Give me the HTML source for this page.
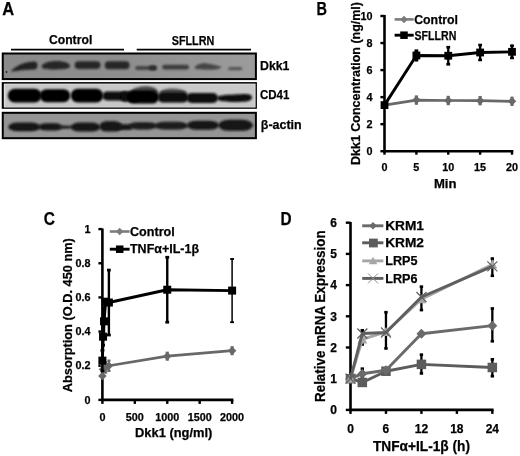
<!DOCTYPE html><html><head><meta charset="utf-8"><style>html,body{margin:0;padding:0;background:#fff;overflow:hidden}svg{display:block}text{font-family:"Liberation Sans",sans-serif;stroke:currentColor;stroke-width:0.25px;paint-order:stroke}</style></head><body>
<svg width="520" height="456" viewBox="0 0 520 456">
<defs><filter id="b1" x="-20%" y="-50%" width="140%" height="200%"><feGaussianBlur stdDeviation="1.2"/></filter><filter id="b2" x="-20%" y="-50%" width="140%" height="200%"><feGaussianBlur stdDeviation="0.8"/></filter><linearGradient id="g1" x1="0" x2="1" y1="0" y2="0"><stop offset="0" stop-color="#8a8a8a"/><stop offset="0.5" stop-color="#8e8e8e"/><stop offset="1" stop-color="#9c9c9c"/></linearGradient><filter id="soft" x="0" y="0" width="520" height="456" filterUnits="userSpaceOnUse"><feGaussianBlur stdDeviation="0.33"/></filter></defs>
<rect width="520" height="456" fill="#fff"/><g filter="url(#soft)">
<text x="2.20" y="14.60" font-size="18.5" text-anchor="start" fill="#000" color="#000" font-weight="bold" textLength="11.90" lengthAdjust="spacingAndGlyphs">A</text>
<text x="48.90" y="44.20" font-size="13.5" text-anchor="start" fill="#000" color="#000" font-weight="bold" textLength="43.40" lengthAdjust="spacingAndGlyphs">Control</text>
<text x="171.70" y="44.70" font-size="13.5" text-anchor="start" fill="#000" color="#000" font-weight="bold" textLength="42.60" lengthAdjust="spacingAndGlyphs">SFLLRN</text>
<line x1="11.00" y1="49.60" x2="124.00" y2="49.60" stroke="#000" stroke-width="1.6" stroke-linecap="butt"/>
<line x1="136.70" y1="49.60" x2="251.00" y2="49.60" stroke="#000" stroke-width="1.6" stroke-linecap="butt"/>
<rect x="2.75" y="53.50" width="253.15" height="25.60" fill="url(#g1)" stroke="#000" stroke-width="2"/>
<rect x="2.75" y="83.10" width="253.15" height="24.70" fill="#c8c8c8" stroke="#000" stroke-width="2"/>
<rect x="4.6" y="84.2" width="250.4" height="22.7" fill="none" stroke="#dedede" stroke-width="1.2"/>
<rect x="2.75" y="112.80" width="253.15" height="25.40" fill="#959595" stroke="#000" stroke-width="2"/>
<path d="M10.8,71.3 C15,67 22,62.2 33,61.6 C37.5,61.4 37.8,64 37.4,66 C37.2,68.5 36,69.6 33,69.6 C25,70 17,70.8 10.8,71.6Z" fill="#222" filter="url(#b2)"/>
<circle cx="6.5" cy="72" r="0.9" fill="#222"/>
<path d="M41.7,66.5 C42,63 48,61.3 56,60.9 C63,61 69.5,62.5 70,65.5 C70.2,68.5 66,69.4 56,69.4 C47,69.5 41.5,69 41.7,66.5Z" fill="#262626" filter="url(#b2)"/>
<rect x="74.60" y="61.20" width="25.90" height="7.70" rx="3.85" ry="3.85" fill="#262626" filter="url(#b2)" opacity="1"/>
<rect x="104.70" y="61.20" width="24.90" height="8.00" rx="4.00" ry="4.00" fill="#282828" filter="url(#b2)" opacity="1"/>
<rect x="135.20" y="66.00" width="21.40" height="4.00" rx="2.00" ry="2.00" fill="#444" filter="url(#b2)" opacity="1"/>
<rect x="149.00" y="65.60" width="7.60" height="4.60" rx="2.30" ry="2.30" fill="#2a2a2a" filter="url(#b2)" opacity="1"/>
<rect x="162.20" y="64.80" width="26.80" height="4.80" rx="2.40" ry="2.40" fill="#3c3c3c" filter="url(#b2)" opacity="1"/>
<path d="M194.5,67.5 C196,65 200,63.2 205,63.2 C210,63.5 215,65 221,66.5 C221.5,68.5 218,69.7 208,69.7 C200,69.7 194.5,69.4 194.5,67.5Z" fill="#444" filter="url(#b2)"/>
<rect x="228.20" y="67.00" width="14.00" height="3.20" rx="1.60" ry="1.60" fill="#555" filter="url(#b2)" opacity="1"/>
<rect x="7.80" y="88.80" width="33.80" height="13.80" rx="6.90" ry="6.90" fill="#060606" filter="url(#b1)" opacity="1"/>
<rect x="39.80" y="89.20" width="30.40" height="13.00" rx="6.50" ry="6.50" fill="#060606" filter="url(#b1)" opacity="1"/>
<rect x="70.80" y="88.80" width="32.40" height="13.80" rx="6.90" ry="6.90" fill="#060606" filter="url(#b1)" opacity="1"/>
<rect x="102.40" y="91.60" width="26.10" height="8.80" rx="4.40" ry="4.40" fill="#0a0a0a" filter="url(#b1)" opacity="1"/>
<rect x="120.00" y="91.20" width="20.00" height="10.60" rx="5.30" ry="5.30" fill="#080808" filter="url(#b1)" opacity="1"/>
<path d="M130,93 C131,88.5 138,86.2 146,86.2 C153,86.2 158,88.5 158.5,93 Z" fill="#4a4a4a" filter="url(#b1)"/>
<rect x="127.00" y="90.60" width="32.00" height="13.00" rx="6.50" ry="6.50" fill="#060606" filter="url(#b1)" opacity="1"/>
<path d="M159,93 C160,90 166,88.5 172,88.5 C179,88.5 186,90 187,93 Z" fill="#555" filter="url(#b1)"/>
<rect x="157.50" y="91.80" width="31.00" height="10.80" rx="5.40" ry="5.40" fill="#080808" filter="url(#b1)" opacity="1"/>
<rect x="186.50" y="93.00" width="31.50" height="10.00" rx="5.00" ry="5.00" fill="#0a0a0a" filter="url(#b1)" opacity="1"/>
<path d="M217,98 C217,95.5 225,95 235,94.6 C244,94.0 252,93 252,97.5 C252,101.5 245,102 235,102 C225,102 217,101.5 217,98Z" fill="#0a0a0a" filter="url(#b1)"/>
<rect x="8.30" y="122.60" width="32.20" height="8.60" rx="9.66" ry="4.30" fill="#161616" filter="url(#b2)" opacity="1"/>
<rect x="38.60" y="123.30" width="23.40" height="7.20" rx="7.02" ry="3.60" fill="#141414" filter="url(#b2)" opacity="1"/>
<rect x="57.00" y="125.40" width="15.50" height="3.40" rx="4.65" ry="1.70" fill="#222" filter="url(#b2)" opacity="1"/>
<rect x="70.60" y="122.60" width="29.90" height="9.00" rx="8.97" ry="4.50" fill="#161616" filter="url(#b2)" opacity="1"/>
<rect x="99.40" y="121.30" width="22.60" height="10.30" rx="6.78" ry="5.15" fill="#161616" filter="url(#b2)" opacity="1"/>
<rect x="116.00" y="124.30" width="16.50" height="5.70" rx="4.95" ry="2.85" fill="#161616" filter="url(#b2)" opacity="1"/>
<rect x="128.80" y="122.20" width="28.20" height="7.20" rx="8.46" ry="3.60" fill="#1c1c1c" filter="url(#b2)" opacity="1"/>
<rect x="154.50" y="121.80" width="33.50" height="7.80" rx="10.05" ry="3.90" fill="#1a1a1a" filter="url(#b2)" opacity="1"/>
<rect x="186.80" y="120.80" width="32.20" height="9.00" rx="9.66" ry="4.50" fill="#161616" filter="url(#b2)" opacity="1"/>
<rect x="218.20" y="119.80" width="34.80" height="11.00" rx="10.44" ry="5.50" fill="#161616" filter="url(#b2)" opacity="1"/>
<text x="260.00" y="69.70" font-size="13.5" text-anchor="start" fill="#000" color="#000" font-weight="bold" textLength="29.40" lengthAdjust="spacingAndGlyphs">Dkk1</text>
<text x="260.00" y="99.30" font-size="13.5" text-anchor="start" fill="#000" color="#000" font-weight="bold" textLength="29.40" lengthAdjust="spacingAndGlyphs">CD41</text>
<text x="260.80" y="128.90" font-size="13.5" text-anchor="start" fill="#000" color="#000" font-weight="bold" textLength="40.90" lengthAdjust="spacingAndGlyphs">β-actin</text>
<text x="316.50" y="14.50" font-size="18.5" text-anchor="start" fill="#000" color="#000" font-weight="bold" textLength="10.50" lengthAdjust="spacingAndGlyphs">B</text>
<line x1="384.50" y1="15.00" x2="384.50" y2="152.50" stroke="#000" stroke-width="2.6" stroke-linecap="butt"/>
<line x1="383.20" y1="151.20" x2="513.30" y2="151.20" stroke="#000" stroke-width="2.6" stroke-linecap="butt"/>
<line x1="380.40" y1="151.20" x2="384.50" y2="151.20" stroke="#000" stroke-width="2.4" stroke-linecap="butt"/>
<text x="372.50" y="154.90" font-size="10.8" text-anchor="end" fill="#000" color="#000" font-weight="bold">0</text>
<line x1="380.40" y1="124.16" x2="384.50" y2="124.16" stroke="#000" stroke-width="2.4" stroke-linecap="butt"/>
<text x="372.50" y="127.86" font-size="10.8" text-anchor="end" fill="#000" color="#000" font-weight="bold">2</text>
<line x1="380.40" y1="97.12" x2="384.50" y2="97.12" stroke="#000" stroke-width="2.4" stroke-linecap="butt"/>
<text x="372.50" y="100.82" font-size="10.8" text-anchor="end" fill="#000" color="#000" font-weight="bold">4</text>
<line x1="380.40" y1="70.08" x2="384.50" y2="70.08" stroke="#000" stroke-width="2.4" stroke-linecap="butt"/>
<text x="372.50" y="73.78" font-size="10.8" text-anchor="end" fill="#000" color="#000" font-weight="bold">6</text>
<line x1="380.40" y1="43.04" x2="384.50" y2="43.04" stroke="#000" stroke-width="2.4" stroke-linecap="butt"/>
<text x="372.50" y="46.74" font-size="10.8" text-anchor="end" fill="#000" color="#000" font-weight="bold">8</text>
<line x1="380.40" y1="16.00" x2="384.50" y2="16.00" stroke="#000" stroke-width="2.4" stroke-linecap="butt"/>
<text x="372.50" y="19.70" font-size="10.8" text-anchor="end" fill="#000" color="#000" font-weight="bold">10</text>
<line x1="384.50" y1="151.20" x2="384.50" y2="154.70" stroke="#000" stroke-width="2.4" stroke-linecap="butt"/>
<text x="384.50" y="170.80" font-size="10.8" text-anchor="middle" fill="#000" color="#000" font-weight="bold">0</text>
<line x1="416.38" y1="151.20" x2="416.38" y2="154.70" stroke="#000" stroke-width="2.4" stroke-linecap="butt"/>
<text x="416.38" y="170.80" font-size="10.8" text-anchor="middle" fill="#000" color="#000" font-weight="bold">5</text>
<line x1="448.25" y1="151.20" x2="448.25" y2="154.70" stroke="#000" stroke-width="2.4" stroke-linecap="butt"/>
<text x="448.25" y="170.80" font-size="10.8" text-anchor="middle" fill="#000" color="#000" font-weight="bold">10</text>
<line x1="480.12" y1="151.20" x2="480.12" y2="154.70" stroke="#000" stroke-width="2.4" stroke-linecap="butt"/>
<text x="480.12" y="170.80" font-size="10.8" text-anchor="middle" fill="#000" color="#000" font-weight="bold">15</text>
<line x1="512.00" y1="151.20" x2="512.00" y2="154.70" stroke="#000" stroke-width="2.4" stroke-linecap="butt"/>
<text x="512.00" y="170.80" font-size="10.8" text-anchor="middle" fill="#000" color="#000" font-weight="bold">20</text>
<text x="433.90" y="188.20" font-size="12.8" text-anchor="start" fill="#000" color="#000" font-weight="bold" textLength="22.60" lengthAdjust="spacingAndGlyphs">Min</text>
<text transform="translate(359.80,165.00) rotate(-90)" font-size="12.8" text-anchor="start" fill="#000" color="#000" font-weight="bold" textLength="163.00" lengthAdjust="spacingAndGlyphs">Dkk1 Concentration (ng/ml)</text>
<polyline points="384.50,105.10 416.38,100.09 448.25,100.50 480.12,100.64 512.00,101.31" fill="none" stroke="#686868" stroke-width="2.7" stroke-linejoin="round"/>
<line x1="416.38" y1="96.49" x2="416.38" y2="103.69" stroke="#686868" stroke-width="1.8" stroke-linecap="butt"/>
<line x1="414.77" y1="96.49" x2="417.98" y2="96.49" stroke="#686868" stroke-width="2.2" stroke-linecap="butt"/>
<line x1="414.77" y1="103.69" x2="417.98" y2="103.69" stroke="#686868" stroke-width="2.2" stroke-linecap="butt"/>
<polygon points="416.38,95.84 420.62,100.09 416.38,104.34 412.12,100.09" fill="#686868"/>
<line x1="448.25" y1="96.90" x2="448.25" y2="104.10" stroke="#686868" stroke-width="1.8" stroke-linecap="butt"/>
<line x1="446.65" y1="96.90" x2="449.85" y2="96.90" stroke="#686868" stroke-width="2.2" stroke-linecap="butt"/>
<line x1="446.65" y1="104.10" x2="449.85" y2="104.10" stroke="#686868" stroke-width="2.2" stroke-linecap="butt"/>
<polygon points="448.25,96.25 452.50,100.50 448.25,104.75 444.00,100.50" fill="#686868"/>
<line x1="480.12" y1="97.04" x2="480.12" y2="104.24" stroke="#686868" stroke-width="1.8" stroke-linecap="butt"/>
<line x1="478.52" y1="97.04" x2="481.73" y2="97.04" stroke="#686868" stroke-width="2.2" stroke-linecap="butt"/>
<line x1="478.52" y1="104.24" x2="481.73" y2="104.24" stroke="#686868" stroke-width="2.2" stroke-linecap="butt"/>
<polygon points="480.12,96.39 484.38,100.64 480.12,104.89 475.88,100.64" fill="#686868"/>
<line x1="512.00" y1="97.71" x2="512.00" y2="104.91" stroke="#686868" stroke-width="1.8" stroke-linecap="butt"/>
<line x1="510.40" y1="97.71" x2="513.60" y2="97.71" stroke="#686868" stroke-width="2.2" stroke-linecap="butt"/>
<line x1="510.40" y1="104.91" x2="513.60" y2="104.91" stroke="#686868" stroke-width="2.2" stroke-linecap="butt"/>
<polygon points="512.00,97.06 516.25,101.31 512.00,105.56 507.75,101.31" fill="#686868"/>
<polyline points="384.50,105.10 416.38,55.48 448.25,55.75 480.12,52.50 512.00,51.83" fill="none" stroke="#000" stroke-width="2.9" stroke-linejoin="round"/>
<rect x="380.60" y="101.20" width="7.8" height="7.8" fill="#000"/>
<line x1="416.38" y1="50.75" x2="416.38" y2="60.21" stroke="#000" stroke-width="2.3" stroke-linecap="butt"/>
<line x1="414.48" y1="50.75" x2="418.27" y2="50.75" stroke="#000" stroke-width="2.6999999999999997" stroke-linecap="butt"/>
<line x1="414.48" y1="60.21" x2="418.27" y2="60.21" stroke="#000" stroke-width="2.6999999999999997" stroke-linecap="butt"/>
<rect x="412.48" y="51.58" width="7.8" height="7.8" fill="#000"/>
<line x1="448.25" y1="47.23" x2="448.25" y2="64.27" stroke="#000" stroke-width="2.3" stroke-linecap="butt"/>
<line x1="446.35" y1="47.23" x2="450.15" y2="47.23" stroke="#000" stroke-width="2.6999999999999997" stroke-linecap="butt"/>
<line x1="446.35" y1="64.27" x2="450.15" y2="64.27" stroke="#000" stroke-width="2.6999999999999997" stroke-linecap="butt"/>
<rect x="444.35" y="51.85" width="7.8" height="7.8" fill="#000"/>
<line x1="480.12" y1="45.07" x2="480.12" y2="59.94" stroke="#000" stroke-width="2.3" stroke-linecap="butt"/>
<line x1="478.23" y1="45.07" x2="482.02" y2="45.07" stroke="#000" stroke-width="2.6999999999999997" stroke-linecap="butt"/>
<line x1="478.23" y1="59.94" x2="482.02" y2="59.94" stroke="#000" stroke-width="2.6999999999999997" stroke-linecap="butt"/>
<rect x="476.23" y="48.60" width="7.8" height="7.8" fill="#000"/>
<line x1="512.00" y1="45.74" x2="512.00" y2="57.91" stroke="#000" stroke-width="2.3" stroke-linecap="butt"/>
<line x1="510.10" y1="45.74" x2="513.90" y2="45.74" stroke="#000" stroke-width="2.6999999999999997" stroke-linecap="butt"/>
<line x1="510.10" y1="57.91" x2="513.90" y2="57.91" stroke="#000" stroke-width="2.6999999999999997" stroke-linecap="butt"/>
<rect x="508.10" y="47.93" width="7.8" height="7.8" fill="#000"/>
<line x1="394.60" y1="19.40" x2="413.70" y2="19.40" stroke="#7c7c7c" stroke-width="2.6" stroke-linecap="butt"/>
<polygon points="404.00,15.65 407.75,19.40 404.00,23.15 400.25,19.40" fill="#7c7c7c"/>
<text x="414.20" y="23.70" font-size="12.5" text-anchor="start" fill="#000" color="#000" font-weight="bold" textLength="43.80" lengthAdjust="spacingAndGlyphs">Control</text>
<line x1="394.60" y1="35.20" x2="413.70" y2="35.20" stroke="#000" stroke-width="2.9" stroke-linecap="butt"/>
<rect x="400.25" y="31.45" width="7.5" height="7.5" fill="#000"/>
<text x="414.50" y="39.60" font-size="12.5" text-anchor="start" fill="#000" color="#000" font-weight="bold" textLength="41.80" lengthAdjust="spacingAndGlyphs">SFLLRN</text>
<text x="43.80" y="225.00" font-size="18.5" text-anchor="start" fill="#000" color="#000" font-weight="bold" textLength="11.20" lengthAdjust="spacingAndGlyphs">C</text>
<line x1="102.40" y1="228.50" x2="102.40" y2="401.20" stroke="#000" stroke-width="2.6" stroke-linecap="butt"/>
<line x1="101.10" y1="399.90" x2="233.40" y2="399.90" stroke="#000" stroke-width="2.6" stroke-linecap="butt"/>
<line x1="98.40" y1="399.90" x2="102.40" y2="399.90" stroke="#000" stroke-width="2.4" stroke-linecap="butt"/>
<text x="90.60" y="403.60" font-size="10.8" text-anchor="end" fill="#000" color="#000" font-weight="bold">0</text>
<line x1="98.40" y1="365.74" x2="102.40" y2="365.74" stroke="#000" stroke-width="2.4" stroke-linecap="butt"/>
<text x="90.60" y="369.44" font-size="10.8" text-anchor="end" fill="#000" color="#000" font-weight="bold">0.2</text>
<line x1="98.40" y1="331.58" x2="102.40" y2="331.58" stroke="#000" stroke-width="2.4" stroke-linecap="butt"/>
<text x="90.60" y="335.28" font-size="10.8" text-anchor="end" fill="#000" color="#000" font-weight="bold">0.4</text>
<line x1="98.40" y1="297.42" x2="102.40" y2="297.42" stroke="#000" stroke-width="2.4" stroke-linecap="butt"/>
<text x="90.60" y="301.12" font-size="10.8" text-anchor="end" fill="#000" color="#000" font-weight="bold">0.6</text>
<line x1="98.40" y1="263.26" x2="102.40" y2="263.26" stroke="#000" stroke-width="2.4" stroke-linecap="butt"/>
<text x="90.60" y="266.96" font-size="10.8" text-anchor="end" fill="#000" color="#000" font-weight="bold">0.8</text>
<line x1="98.40" y1="229.10" x2="102.40" y2="229.10" stroke="#000" stroke-width="2.4" stroke-linecap="butt"/>
<text x="90.60" y="232.80" font-size="10.8" text-anchor="end" fill="#000" color="#000" font-weight="bold">1</text>
<line x1="102.40" y1="399.90" x2="102.40" y2="403.90" stroke="#000" stroke-width="2.4" stroke-linecap="butt"/>
<text x="102.40" y="420.60" font-size="10.8" text-anchor="middle" fill="#000" color="#000" font-weight="bold">0</text>
<line x1="134.83" y1="399.90" x2="134.83" y2="403.90" stroke="#000" stroke-width="2.4" stroke-linecap="butt"/>
<text x="134.83" y="420.60" font-size="10.8" text-anchor="middle" fill="#000" color="#000" font-weight="bold">500</text>
<line x1="167.25" y1="399.90" x2="167.25" y2="403.90" stroke="#000" stroke-width="2.4" stroke-linecap="butt"/>
<text x="167.25" y="420.60" font-size="10.8" text-anchor="middle" fill="#000" color="#000" font-weight="bold">1000</text>
<line x1="199.68" y1="399.90" x2="199.68" y2="403.90" stroke="#000" stroke-width="2.4" stroke-linecap="butt"/>
<text x="199.68" y="420.60" font-size="10.8" text-anchor="middle" fill="#000" color="#000" font-weight="bold">1500</text>
<line x1="232.10" y1="399.90" x2="232.10" y2="403.90" stroke="#000" stroke-width="2.4" stroke-linecap="butt"/>
<text x="232.10" y="420.60" font-size="10.8" text-anchor="middle" fill="#000" color="#000" font-weight="bold">2000</text>
<text x="135.00" y="437.30" font-size="12.8" text-anchor="start" fill="#000" color="#000" font-weight="bold" textLength="77.40" lengthAdjust="spacingAndGlyphs">Dkk1 (ng/ml)</text>
<text transform="translate(72.00,392.20) rotate(-90)" font-size="12.8" text-anchor="start" fill="#000" color="#000" font-weight="bold" textLength="154.00" lengthAdjust="spacingAndGlyphs">Absorption (O.D. 450 nm)</text>
<polyline points="103.05,369.16 104.02,365.74 105.64,367.45 108.89,365.74 167.25,356.18 232.10,350.71" fill="none" stroke="#686868" stroke-width="2.7" stroke-linejoin="round"/>
<polygon points="102.40,371.74 106.65,375.99 102.40,380.24 98.15,375.99" fill="#686868"/>
<polygon points="103.05,364.91 107.30,369.16 103.05,373.41 98.80,369.16" fill="#686868"/>
<polygon points="104.02,361.49 108.27,365.74 104.02,369.99 99.77,365.74" fill="#686868"/>
<line x1="105.64" y1="362.32" x2="105.64" y2="372.57" stroke="#686868" stroke-width="1.8" stroke-linecap="butt"/>
<line x1="104.04" y1="362.32" x2="107.24" y2="362.32" stroke="#686868" stroke-width="2.2" stroke-linecap="butt"/>
<line x1="104.04" y1="372.57" x2="107.24" y2="372.57" stroke="#686868" stroke-width="2.2" stroke-linecap="butt"/>
<polygon points="105.64,363.20 109.89,367.45 105.64,371.70 101.39,367.45" fill="#686868"/>
<line x1="108.89" y1="360.62" x2="108.89" y2="370.86" stroke="#686868" stroke-width="1.8" stroke-linecap="butt"/>
<line x1="107.29" y1="360.62" x2="110.48" y2="360.62" stroke="#686868" stroke-width="2.2" stroke-linecap="butt"/>
<line x1="107.29" y1="370.86" x2="110.48" y2="370.86" stroke="#686868" stroke-width="2.2" stroke-linecap="butt"/>
<polygon points="108.89,361.49 113.14,365.74 108.89,369.99 104.64,365.74" fill="#686868"/>
<line x1="167.25" y1="352.76" x2="167.25" y2="359.59" stroke="#686868" stroke-width="1.8" stroke-linecap="butt"/>
<line x1="165.65" y1="352.76" x2="168.85" y2="352.76" stroke="#686868" stroke-width="2.2" stroke-linecap="butt"/>
<line x1="165.65" y1="359.59" x2="168.85" y2="359.59" stroke="#686868" stroke-width="2.2" stroke-linecap="butt"/>
<polygon points="167.25,351.93 171.50,356.18 167.25,360.43 163.00,356.18" fill="#686868"/>
<line x1="232.10" y1="347.29" x2="232.10" y2="354.13" stroke="#686868" stroke-width="1.8" stroke-linecap="butt"/>
<line x1="230.50" y1="347.29" x2="233.70" y2="347.29" stroke="#686868" stroke-width="2.2" stroke-linecap="butt"/>
<line x1="230.50" y1="354.13" x2="233.70" y2="354.13" stroke="#686868" stroke-width="2.2" stroke-linecap="butt"/>
<polygon points="232.10,346.46 236.35,350.71 232.10,354.96 227.85,350.71" fill="#686868"/>
<polyline points="102.40,360.62 103.05,336.70 104.02,321.33 105.64,301.69 108.89,302.54 167.25,289.73 232.10,290.59" fill="none" stroke="#000" stroke-width="2.9" stroke-linejoin="round"/>
<line x1="102.40" y1="350.37" x2="102.40" y2="370.86" stroke="#000" stroke-width="2.4" stroke-linecap="butt"/>
<line x1="100.50" y1="350.37" x2="104.30" y2="350.37" stroke="#000" stroke-width="2.8" stroke-linecap="butt"/>
<line x1="100.50" y1="370.86" x2="104.30" y2="370.86" stroke="#000" stroke-width="2.8" stroke-linecap="butt"/>
<rect x="98.40" y="356.62" width="8" height="8" fill="#000"/>
<line x1="103.05" y1="328.16" x2="103.05" y2="345.24" stroke="#000" stroke-width="2.4" stroke-linecap="butt"/>
<line x1="101.15" y1="328.16" x2="104.95" y2="328.16" stroke="#000" stroke-width="2.8" stroke-linecap="butt"/>
<line x1="101.15" y1="345.24" x2="104.95" y2="345.24" stroke="#000" stroke-width="2.8" stroke-linecap="butt"/>
<rect x="99.05" y="332.70" width="8" height="8" fill="#000"/>
<line x1="104.02" y1="307.67" x2="104.02" y2="335.00" stroke="#000" stroke-width="2.4" stroke-linecap="butt"/>
<line x1="102.12" y1="307.67" x2="105.92" y2="307.67" stroke="#000" stroke-width="2.8" stroke-linecap="butt"/>
<line x1="102.12" y1="335.00" x2="105.92" y2="335.00" stroke="#000" stroke-width="2.8" stroke-linecap="butt"/>
<rect x="100.02" y="317.33" width="8" height="8" fill="#000"/>
<rect x="101.64" y="297.69" width="8" height="8" fill="#000"/>
<line x1="108.89" y1="270.09" x2="108.89" y2="335.00" stroke="#000" stroke-width="2.4" stroke-linecap="butt"/>
<line x1="106.98" y1="270.09" x2="110.79" y2="270.09" stroke="#000" stroke-width="2.8" stroke-linecap="butt"/>
<line x1="106.98" y1="335.00" x2="110.79" y2="335.00" stroke="#000" stroke-width="2.8" stroke-linecap="butt"/>
<rect x="104.89" y="298.54" width="8" height="8" fill="#000"/>
<line x1="167.25" y1="257.28" x2="167.25" y2="322.19" stroke="#000" stroke-width="2.4" stroke-linecap="butt"/>
<line x1="165.35" y1="257.28" x2="169.15" y2="257.28" stroke="#000" stroke-width="2.8" stroke-linecap="butt"/>
<line x1="165.35" y1="322.19" x2="169.15" y2="322.19" stroke="#000" stroke-width="2.8" stroke-linecap="butt"/>
<rect x="163.25" y="285.73" width="8" height="8" fill="#000"/>
<line x1="232.10" y1="258.99" x2="232.10" y2="322.19" stroke="#000" stroke-width="1.5" stroke-linecap="butt"/>
<line x1="230.20" y1="258.99" x2="234.00" y2="258.99" stroke="#000" stroke-width="1.9" stroke-linecap="butt"/>
<line x1="230.20" y1="322.19" x2="234.00" y2="322.19" stroke="#000" stroke-width="1.9" stroke-linecap="butt"/>
<rect x="228.10" y="286.59" width="8" height="8" fill="#000"/>
<line x1="109.80" y1="231.50" x2="129.60" y2="231.50" stroke="#7c7c7c" stroke-width="2.6" stroke-linecap="butt"/>
<polygon points="119.70,227.75 123.45,231.50 119.70,235.25 115.95,231.50" fill="#7c7c7c"/>
<text x="130.00" y="235.80" font-size="12.5" text-anchor="start" fill="#000" color="#000" font-weight="bold" textLength="44.70" lengthAdjust="spacingAndGlyphs">Control</text>
<line x1="109.80" y1="249.20" x2="129.60" y2="249.20" stroke="#000" stroke-width="2.9" stroke-linecap="butt"/>
<rect x="115.95" y="245.45" width="7.5" height="7.5" fill="#000"/>
<text x="130.00" y="253.10" font-size="12.5" text-anchor="start" fill="#000" color="#000" font-weight="bold" textLength="69.00" lengthAdjust="spacingAndGlyphs">TNFα+IL-1β</text>
<text x="280.40" y="224.80" font-size="18.5" text-anchor="start" fill="#000" color="#000" font-weight="bold" textLength="11.10" lengthAdjust="spacingAndGlyphs">D</text>
<line x1="350.50" y1="222.00" x2="350.50" y2="411.20" stroke="#000" stroke-width="2.6" stroke-linecap="butt"/>
<line x1="349.20" y1="409.90" x2="493.60" y2="409.90" stroke="#000" stroke-width="2.6" stroke-linecap="butt"/>
<line x1="345.80" y1="409.90" x2="350.50" y2="409.90" stroke="#000" stroke-width="2.4" stroke-linecap="butt"/>
<text x="337.00" y="414.10" font-size="12" text-anchor="end" fill="#000" color="#000" font-weight="bold">0</text>
<line x1="345.80" y1="378.70" x2="350.50" y2="378.70" stroke="#000" stroke-width="2.4" stroke-linecap="butt"/>
<text x="337.00" y="382.90" font-size="12" text-anchor="end" fill="#000" color="#000" font-weight="bold">1</text>
<line x1="345.80" y1="347.50" x2="350.50" y2="347.50" stroke="#000" stroke-width="2.4" stroke-linecap="butt"/>
<text x="337.00" y="351.70" font-size="12" text-anchor="end" fill="#000" color="#000" font-weight="bold">2</text>
<line x1="345.80" y1="316.30" x2="350.50" y2="316.30" stroke="#000" stroke-width="2.4" stroke-linecap="butt"/>
<text x="337.00" y="320.50" font-size="12" text-anchor="end" fill="#000" color="#000" font-weight="bold">3</text>
<line x1="345.80" y1="285.10" x2="350.50" y2="285.10" stroke="#000" stroke-width="2.4" stroke-linecap="butt"/>
<text x="337.00" y="289.30" font-size="12" text-anchor="end" fill="#000" color="#000" font-weight="bold">4</text>
<line x1="345.80" y1="253.90" x2="350.50" y2="253.90" stroke="#000" stroke-width="2.4" stroke-linecap="butt"/>
<text x="337.00" y="258.10" font-size="12" text-anchor="end" fill="#000" color="#000" font-weight="bold">5</text>
<line x1="345.80" y1="222.70" x2="350.50" y2="222.70" stroke="#000" stroke-width="2.4" stroke-linecap="butt"/>
<text x="337.00" y="226.90" font-size="12" text-anchor="end" fill="#000" color="#000" font-weight="bold">6</text>
<line x1="350.50" y1="409.90" x2="350.50" y2="413.90" stroke="#000" stroke-width="2.4" stroke-linecap="butt"/>
<text x="350.50" y="433.10" font-size="12" text-anchor="middle" fill="#000" color="#000" font-weight="bold">0</text>
<line x1="385.96" y1="409.90" x2="385.96" y2="413.90" stroke="#000" stroke-width="2.4" stroke-linecap="butt"/>
<text x="385.96" y="433.10" font-size="12" text-anchor="middle" fill="#000" color="#000" font-weight="bold">6</text>
<line x1="421.42" y1="409.90" x2="421.42" y2="413.90" stroke="#000" stroke-width="2.4" stroke-linecap="butt"/>
<text x="421.42" y="433.10" font-size="12" text-anchor="middle" fill="#000" color="#000" font-weight="bold">12</text>
<line x1="456.88" y1="409.90" x2="456.88" y2="413.90" stroke="#000" stroke-width="2.4" stroke-linecap="butt"/>
<text x="456.88" y="433.10" font-size="12" text-anchor="middle" fill="#000" color="#000" font-weight="bold">18</text>
<line x1="492.34" y1="409.90" x2="492.34" y2="413.90" stroke="#000" stroke-width="2.4" stroke-linecap="butt"/>
<text x="492.34" y="433.10" font-size="12" text-anchor="middle" fill="#000" color="#000" font-weight="bold">24</text>
<text x="373.00" y="450.80" font-size="14" text-anchor="start" fill="#000" color="#000" font-weight="bold" textLength="97.00" lengthAdjust="spacingAndGlyphs">TNFα+IL-1β (h)</text>
<text transform="translate(325.40,402.00) rotate(-90)" font-size="14" text-anchor="start" fill="#000" color="#000" font-weight="bold" textLength="171.60" lengthAdjust="spacingAndGlyphs">Relative mRNA Expression</text>
<line x1="362.32" y1="330.34" x2="362.32" y2="344.38" stroke="#000" stroke-width="2.3" stroke-linecap="butt"/>
<line x1="360.62" y1="330.34" x2="364.02" y2="330.34" stroke="#000" stroke-width="2.6999999999999997" stroke-linecap="butt"/>
<line x1="360.62" y1="344.38" x2="364.02" y2="344.38" stroke="#000" stroke-width="2.6999999999999997" stroke-linecap="butt"/>
<line x1="385.96" y1="312.24" x2="385.96" y2="348.44" stroke="#000" stroke-width="2.3" stroke-linecap="butt"/>
<line x1="384.26" y1="312.24" x2="387.66" y2="312.24" stroke="#000" stroke-width="2.6999999999999997" stroke-linecap="butt"/>
<line x1="384.26" y1="348.44" x2="387.66" y2="348.44" stroke="#000" stroke-width="2.6999999999999997" stroke-linecap="butt"/>
<line x1="421.42" y1="286.66" x2="421.42" y2="310.06" stroke="#000" stroke-width="2.3" stroke-linecap="butt"/>
<line x1="419.72" y1="286.66" x2="423.12" y2="286.66" stroke="#000" stroke-width="2.6999999999999997" stroke-linecap="butt"/>
<line x1="419.72" y1="310.06" x2="423.12" y2="310.06" stroke="#000" stroke-width="2.6999999999999997" stroke-linecap="butt"/>
<line x1="492.34" y1="258.58" x2="492.34" y2="275.74" stroke="#000" stroke-width="2.3" stroke-linecap="butt"/>
<line x1="490.64" y1="258.58" x2="494.04" y2="258.58" stroke="#000" stroke-width="2.6999999999999997" stroke-linecap="butt"/>
<line x1="490.64" y1="275.74" x2="494.04" y2="275.74" stroke="#000" stroke-width="2.6999999999999997" stroke-linecap="butt"/>
<line x1="492.34" y1="308.50" x2="492.34" y2="341.26" stroke="#000" stroke-width="2.3" stroke-linecap="butt"/>
<line x1="490.64" y1="308.50" x2="494.04" y2="308.50" stroke="#000" stroke-width="2.6999999999999997" stroke-linecap="butt"/>
<line x1="490.64" y1="341.26" x2="494.04" y2="341.26" stroke="#000" stroke-width="2.6999999999999997" stroke-linecap="butt"/>
<line x1="421.42" y1="354.68" x2="421.42" y2="373.40" stroke="#000" stroke-width="2.3" stroke-linecap="butt"/>
<line x1="419.72" y1="354.68" x2="423.12" y2="354.68" stroke="#000" stroke-width="2.6999999999999997" stroke-linecap="butt"/>
<line x1="419.72" y1="373.40" x2="423.12" y2="373.40" stroke="#000" stroke-width="2.6999999999999997" stroke-linecap="butt"/>
<line x1="492.34" y1="359.36" x2="492.34" y2="376.20" stroke="#000" stroke-width="2.3" stroke-linecap="butt"/>
<line x1="490.64" y1="359.36" x2="494.04" y2="359.36" stroke="#000" stroke-width="2.6999999999999997" stroke-linecap="butt"/>
<line x1="490.64" y1="376.20" x2="494.04" y2="376.20" stroke="#000" stroke-width="2.6999999999999997" stroke-linecap="butt"/>
<line x1="362.32" y1="368.72" x2="362.32" y2="377.14" stroke="#000" stroke-width="2.3" stroke-linecap="butt"/>
<line x1="360.62" y1="368.72" x2="364.02" y2="368.72" stroke="#000" stroke-width="2.6999999999999997" stroke-linecap="butt"/>
<line x1="360.62" y1="377.14" x2="364.02" y2="377.14" stroke="#000" stroke-width="2.6999999999999997" stroke-linecap="butt"/>
<polyline points="350.50,378.70 362.32,382.44 385.96,371.21 421.42,364.35 492.34,367.47" fill="none" stroke="#5c5c5c" stroke-width="2.9" stroke-linejoin="round"/>
<rect x="345.75" y="373.95" width="9.5" height="9.5" fill="#5c5c5c"/>
<rect x="357.57" y="377.69" width="9.5" height="9.5" fill="#5c5c5c"/>
<rect x="381.21" y="366.46" width="9.5" height="9.5" fill="#5c5c5c"/>
<rect x="416.67" y="359.60" width="9.5" height="9.5" fill="#5c5c5c"/>
<rect x="487.59" y="362.72" width="9.5" height="9.5" fill="#5c5c5c"/>
<polyline points="350.50,378.70 362.32,373.71 385.96,370.28 421.42,333.77 492.34,325.66" fill="none" stroke="#6a6a6a" stroke-width="2.9" stroke-linejoin="round"/>
<polygon points="350.50,373.70 355.50,378.70 350.50,383.70 345.50,378.70" fill="#6a6a6a"/>
<polygon points="362.32,368.71 367.32,373.71 362.32,378.71 357.32,373.71" fill="#6a6a6a"/>
<polygon points="385.96,365.28 390.96,370.28 385.96,375.28 380.96,370.28" fill="#6a6a6a"/>
<polygon points="421.42,328.77 426.42,333.77 421.42,338.77 416.42,333.77" fill="#6a6a6a"/>
<polygon points="492.34,320.66 497.34,325.66 492.34,330.66 487.34,325.66" fill="#6a6a6a"/>
<polyline points="350.50,378.70 362.32,339.39 385.96,331.90 421.42,299.14 492.34,264.51" fill="none" stroke="#a6a6a6" stroke-width="2.9" stroke-linejoin="round"/>
<polygon points="350.50,373.70 355.50,382.70 345.50,382.70" fill="#a6a6a6"/>
<polygon points="362.32,334.39 367.32,343.39 357.32,343.39" fill="#a6a6a6"/>
<polygon points="385.96,326.90 390.96,335.90 380.96,335.90" fill="#a6a6a6"/>
<polygon points="421.42,294.14 426.42,303.14 416.42,303.14" fill="#a6a6a6"/>
<polygon points="492.34,259.51 497.34,268.51 487.34,268.51" fill="#a6a6a6"/>
<polyline points="350.50,378.70 362.32,333.46 385.96,332.52 421.42,296.96 492.34,266.38" fill="none" stroke="#5e5e5e" stroke-width="2.9" stroke-linejoin="round"/>
<line x1="345.50" y1="373.70" x2="355.50" y2="383.70" stroke="#5e5e5e" stroke-width="1.2" stroke-linecap="butt"/>
<line x1="345.50" y1="383.70" x2="355.50" y2="373.70" stroke="#5e5e5e" stroke-width="1.2" stroke-linecap="butt"/>
<line x1="357.32" y1="328.46" x2="367.32" y2="338.46" stroke="#5e5e5e" stroke-width="1.2" stroke-linecap="butt"/>
<line x1="357.32" y1="338.46" x2="367.32" y2="328.46" stroke="#5e5e5e" stroke-width="1.2" stroke-linecap="butt"/>
<line x1="380.96" y1="327.52" x2="390.96" y2="337.52" stroke="#5e5e5e" stroke-width="1.2" stroke-linecap="butt"/>
<line x1="380.96" y1="337.52" x2="390.96" y2="327.52" stroke="#5e5e5e" stroke-width="1.2" stroke-linecap="butt"/>
<line x1="416.42" y1="291.96" x2="426.42" y2="301.96" stroke="#5e5e5e" stroke-width="1.2" stroke-linecap="butt"/>
<line x1="416.42" y1="301.96" x2="426.42" y2="291.96" stroke="#5e5e5e" stroke-width="1.2" stroke-linecap="butt"/>
<line x1="487.34" y1="261.38" x2="497.34" y2="271.38" stroke="#5e5e5e" stroke-width="1.2" stroke-linecap="butt"/>
<line x1="487.34" y1="271.38" x2="497.34" y2="261.38" stroke="#5e5e5e" stroke-width="1.2" stroke-linecap="butt"/>
<line x1="362.20" y1="225.80" x2="383.40" y2="225.80" stroke="#6a6a6a" stroke-width="2.9" stroke-linecap="butt"/>
<polygon points="373.00,222.05 376.75,225.80 373.00,229.55 369.25,225.80" fill="#6a6a6a"/>
<text x="385.20" y="230.20" font-size="12.5" text-anchor="start" fill="#000" color="#000" font-weight="bold" textLength="38.80" lengthAdjust="spacingAndGlyphs">KRM1</text>
<line x1="362.20" y1="242.80" x2="383.40" y2="242.80" stroke="#5c5c5c" stroke-width="2.9" stroke-linecap="butt"/>
<rect x="369.00" y="238.60" width="8.8" height="8.8" fill="#5c5c5c"/>
<text x="385.20" y="247.20" font-size="12.5" text-anchor="start" fill="#000" color="#000" font-weight="bold" textLength="38.80" lengthAdjust="spacingAndGlyphs">KRM2</text>
<line x1="362.20" y1="260.90" x2="383.40" y2="260.90" stroke="#a6a6a6" stroke-width="2.9" stroke-linecap="butt"/>
<polygon points="373.00,256.65 377.25,264.30 368.75,264.30" fill="#a6a6a6"/>
<text x="385.20" y="265.30" font-size="12.5" text-anchor="start" fill="#000" color="#000" font-weight="bold" textLength="32.20" lengthAdjust="spacingAndGlyphs">LRP5</text>
<line x1="362.20" y1="278.40" x2="383.40" y2="278.40" stroke="#5e5e5e" stroke-width="2.9" stroke-linecap="butt"/>
<line x1="368.00" y1="273.40" x2="378.00" y2="283.40" stroke="#8a8a8a" stroke-width="1.0" stroke-linecap="butt"/>
<line x1="368.00" y1="283.40" x2="378.00" y2="273.40" stroke="#8a8a8a" stroke-width="1.0" stroke-linecap="butt"/>
<text x="385.20" y="282.80" font-size="12.5" text-anchor="start" fill="#000" color="#000" font-weight="bold" textLength="32.20" lengthAdjust="spacingAndGlyphs">LRP6</text>
</g></svg></body></html>
